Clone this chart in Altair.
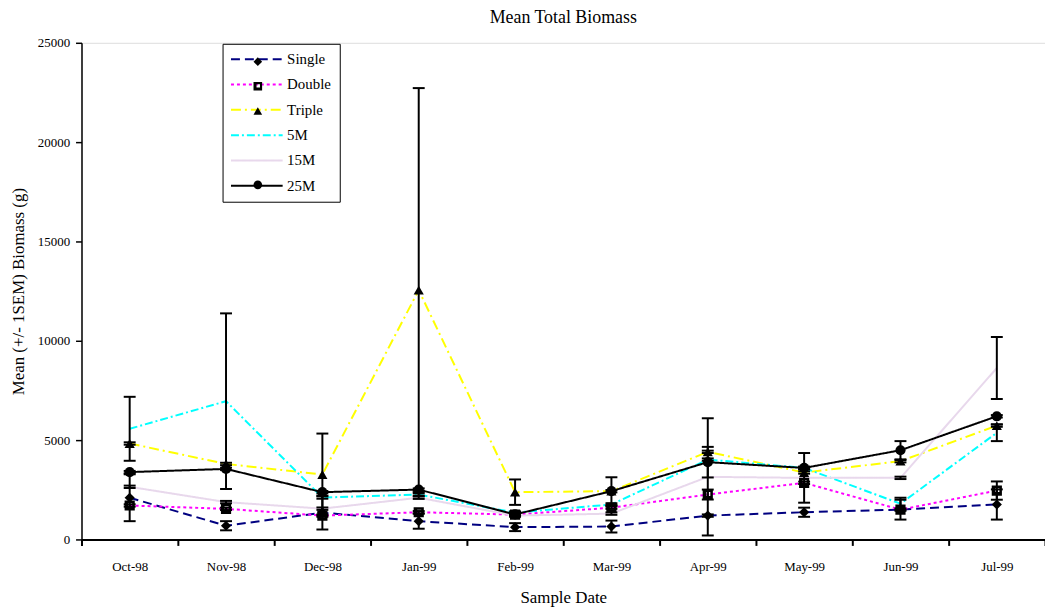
import altair as alt
import pandas as pd

dates = ["Oct-98", "Nov-98", "Dec-98", "Jan-99", "Feb-99", "Mar-99", "Apr-99", "May-99", "Jun-99", "Jul-99"]
series_names = ["Single", "Double", "Triple", "5M", "15M", "25M"]

single = [2100, 690, 1350, 920, 620, 650, 1200, 1370, 1500, 1760]
double = [1710, 1540, 1200, 1370, 1250, 1600, 2260, 2850, 1500, 2460]
triple = [4830, 3800, 3270, 12550, 2380, 2430, 4410, 3370, 3940, 5730]
m5 = [5570, 6960, 2110, 2260, 1350, 1760, 4020, 3600, 1800, 5370]
m15 = [2650, 1880, 1550, 2100, 1200, 1300, 3150, 3100, 3100, 8630]
m25 = [3390, 3550, 2380, 2510, 1260, 2430, 3890, 3600, 4490, 6200]

single_sem = [1180, 230, 850, 380, 200, 300, 60, 230, 500, 760]
double_sem = [60, 60, 60, 60, 60, 60, 250, 60, 60, 460]
triple_sem = [60, 60, 2060, 10170, 640, 700, 60, 60, 60, 60]
m5_sem = [1610, 4420, 60, 60, 60, 60, 60, 60, 300, 420]
m15_sem = [60, 60, 60, 60, 60, 60, 2950, 1250, 60, 1560]
m25_sem = [60, 60, 60, 60, 60, 60, 770, 60, 460, 60]

values = [single, double, triple, m5, m15, m25]
sems = [single_sem, double_sem, triple_sem, m5_sem, m15_sem, m25_sem]

colors = ["#000080", "#FF00FF", "#FFFF00", "#00FFFF", "#E8D8EC", "#000000"]
dashes = [[9, 5], [3, 3], [10, 4, 2, 4], [8, 3, 2, 3], [1, 0], [1, 0]]
widths = [2, 2, 1.5, 2, 2, 2]
shapes = [
    "diamond",
    "M-1,-1L1,-1L1,1L-1,1ZM-0.3,-0.5L-0.3,0.3L0.5,0.3L0.5,-0.5Z",
    "triangle-up",
    "M-1,-1L1,1M-1,1L1,-1",
    "M-1,-1L1,1M-1,1L1,-1M-1,-1L1,-1M-1,1L1,1",
    "circle",
]

rows = []
for name, vals, ss in zip(series_names, values, sems):
    for i, (d, v, s) in enumerate(zip(dates, vals, ss)):
        rows.append({"date": d, "idx": i, "series": name, "marker": name, "value": v,
                     "lo": v - s, "hi": v + s})
df = pd.DataFrame(rows)

font = "Liberation Serif"
xenc = alt.X("date:N", sort=dates, bandPosition=0.5,
             scale=alt.Scale(type="band", paddingInner=0, paddingOuter=0),
             axis=alt.Axis(title="Sample Date", tickBand="extent", labelAngle=0,
                           labelFont=font, labelFontSize=13, labelColor="black",
                           titleFont=font, titleFontSize=17, titleFontWeight="normal",
                           titleColor="black", titlePadding=16,
                           domainColor="black", domainWidth=2, tickColor="black",
                           tickWidth=2, tickSize=6, labelPadding=15, grid=False))
yscale = alt.Scale(domain=[0, 25000], nice=False)

leg_common = dict(orient="none", title=None, labelFont=font, labelFontSize=15,
                  labelColor="black")

stroke_legend = alt.Legend(legendX=142, legendY=1, symbolType="M-5.2,0L5.2,0",
                           symbolSize=100, symbolStrokeWidth=2, symbolOffset=19,
                           symbolFillColor="transparent",
                           strokeColor="black", padding=8, rowPadding=9.5,
                           labelOffset=23, fillColor="white", **leg_common)

base = alt.Chart(df)

lines = base.mark_line().encode(
    x=xenc,
    y=alt.Y("value:Q", scale=yscale,
            axis=alt.Axis(title="Mean (+/- 1SEM) Biomass (g)", values=[0, 5000, 10000, 15000, 20000, 25000],
                          format="d", labelFont=font, labelFontSize=13, labelColor="black",
                          titleFont=font, titleFontSize=17, titleFontWeight="normal",
                          titleColor="black", titlePadding=10,
                          domainColor="black", domainWidth=1.5, tickColor="black",
                          tickWidth=1.5, tickSize=6, labelPadding=6, grid=False)),
    color=alt.Color("series:N", sort=series_names,
                    scale=alt.Scale(domain=series_names, range=colors),
                    legend=stroke_legend),
    strokeDash=alt.StrokeDash("series:N", sort=series_names,
                              scale=alt.Scale(domain=series_names, range=dashes),
                              legend=stroke_legend),
    strokeWidth=alt.StrokeWidth("series:N", scale=alt.Scale(domain=series_names, range=widths),
                                legend=None),
    order=alt.Order("idx:Q"),
)

rules = base.mark_rule(color="black", strokeWidth=2).encode(
    x=xenc, y=alt.Y("lo:Q", scale=yscale), y2="hi:Q")

caps_lo = base.mark_point(shape="stroke", size=144, color="black", strokeWidth=2,
                          filled=False, opacity=1).encode(x=xenc, y=alt.Y("lo:Q", scale=yscale))
caps_hi = base.mark_point(shape="stroke", size=144, color="black", strokeWidth=2,
                          filled=False, opacity=1).encode(x=xenc, y=alt.Y("hi:Q", scale=yscale))

points = base.mark_point(filled=True, color="black", size=105, opacity=1, strokeWidth=2).encode(
    x=xenc, y=alt.Y("value:Q", scale=yscale),
    shape=alt.Shape("marker:N", sort=series_names,
                    scale=alt.Scale(domain=series_names, range=shapes),
                    legend=alt.Legend(legendX=170, legendY=11.5, symbolSize=75,
                                      symbolFillColor="black", symbolStrokeColor="black",
                                      symbolStrokeWidth=2, labelExpr="''",
                                      padding=0, rowPadding=7.8, labelOffset=0,
                                      **leg_common)),
)

chart = alt.layer(lines, rules, caps_lo, caps_hi, points).resolve_scale(
    color="independent", shape="independent", strokeDash="independent"
).properties(
    width=970, height=500,
    title=alt.TitleParams("Mean Total Biomass", font=font, fontSize=18, fontWeight="normal",
                          color="black", anchor="middle", offset=10),
    autosize=alt.AutoSizeParams(type="none"),
    padding={"left": 74, "top": 33, "right": 0, "bottom": 70},
).configure_view(stroke=None).configure(background="white")

chart.save("out.html", embed_options={"renderer": "svg", "actions": False})
